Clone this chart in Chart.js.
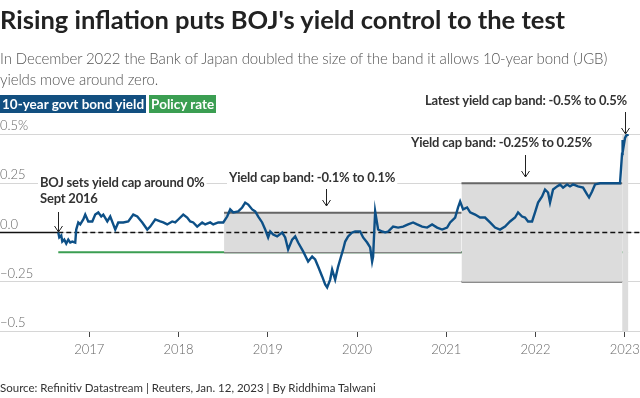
<!DOCTYPE html>
<html>
<head>
<meta charset="utf-8">
<script src="https://cdn.jsdelivr.net/npm/chart.js@4/dist/chart.umd.min.js"></script>
<style>
  html, body { margin:0; padding:0; background:#fff; }
  body { width:640px; height:398px; position:relative; overflow:hidden; font-family: Lato, "Open Sans", sans-serif; }
  #title { position:absolute; left:0; top:4px; font-weight:700; font-size:25.5px; line-height:30px; color:#222; white-space:nowrap; }
  #sub { position:absolute; left:0; top:48px; font-weight:300; font-size:15px; letter-spacing:-0.1px; line-height:21px; color:#555; width:612px; }
  #legend { position:absolute; left:0; top:95px; height:18px; display:flex; gap:3px; }
  #legend span { display:inline-block; height:18px; line-height:18px; font-weight:700; font-size:13.5px; color:#fff; padding:0 2px; }
  #source { position:absolute; left:0; top:380px; font-size:11.5px; line-height:16px; color:#333; white-space:nowrap; }
  #wrap { position:absolute; left:0; top:0; width:640px; height:398px; }
</style>
</head>
<body>
<div id="wrap"><canvas id="c" width="640" height="398"></canvas></div>
<div id="title">Rising inflation puts BOJ's yield control to the test</div>
<div id="sub">In December 2022 the Bank of Japan doubled the size of the band it allows 10-year bond (JGB) yields move around zero.</div>
<div id="legend"><span style="background:#124f80">10-year govt bond yield</span><span style="background:#3b9e52">Policy rate</span></div>
<div id="source">Source: Refinitiv Datastream | Reuters, Jan. 12, 2023 | By Riddhima Talwani</div>
<script>
// ---- data (x in decimal years, y in %) ----
const yieldDates = [2016.653,2016.664,2016.686,2016.698,2016.720,2016.742,2016.765,2016.787,2016.810,2016.843,2016.854,2016.877,2016.899,2016.933,2016.955,2016.989,2017.034,2017.067,2017.101,2017.134,2017.157,2017.202,2017.235,2017.269,2017.291,2017.325,2017.381,2017.437,2017.493,2017.538,2017.594,2017.650,2017.683,2017.739,2017.795,2017.829,2017.873,2017.929,2017.963,2017.997,2018.053,2018.097,2018.131,2018.165,2018.209,2018.265,2018.299,2018.355,2018.389,2018.445,2018.501,2018.545,2018.579,2018.613,2018.669,2018.713,2018.747,2018.781,2018.825,2018.859,2018.893,2018.937,2018.971,2019.004,2019.027,2019.060,2019.105,2019.161,2019.195,2019.228,2019.273,2019.307,2019.340,2019.396,2019.452,2019.497,2019.531,2019.564,2019.609,2019.643,2019.665,2019.699,2019.721,2019.755,2019.788,2019.811,2019.844,2019.867,2019.900,2019.945,2019.979,2020.035,2020.068,2020.113,2020.147,2020.169,2020.180,2020.203,2020.236,2020.281,2020.315,2020.348,2020.404,2020.460,2020.516,2020.572,2020.628,2020.673,2020.729,2020.785,2020.841,2020.897,2020.953,2021.009,2021.043,2021.099,2021.132,2021.155,2021.188,2021.233,2021.267,2021.323,2021.378,2021.434,2021.490,2021.546,2021.602,2021.658,2021.714,2021.770,2021.804,2021.849,2021.882,2021.916,2021.961,2021.994,2022.028,2022.073,2022.106,2022.140,2022.162,2022.196,2022.241,2022.274,2022.308,2022.353,2022.386,2022.420,2022.476,2022.532,2022.577,2022.599,2022.633,2022.666,2022.722,2022.778,2022.834,2022.890,2022.946,2022.969,2022.975,2022.980,2023.002,2023.025,2023.036];
const yieldValues = [0.000,-0.025,-0.015,-0.046,-0.036,-0.056,-0.036,-0.051,-0.046,-0.051,0.015,0.051,0.041,0.066,0.091,0.056,0.056,0.091,0.102,0.081,0.091,0.056,0.081,0.041,0.015,0.051,0.051,0.056,0.091,0.081,0.051,0.015,0.030,0.066,0.056,0.051,0.041,0.056,0.051,0.066,0.091,0.076,0.056,0.051,0.030,0.051,0.041,0.051,0.041,0.051,0.051,0.081,0.117,0.102,0.107,0.127,0.152,0.142,0.117,0.107,0.081,0.051,0.015,-0.025,0.005,-0.010,-0.020,0.000,-0.025,-0.086,-0.036,-0.020,-0.051,-0.096,-0.147,-0.122,-0.137,-0.173,-0.223,-0.264,-0.279,-0.239,-0.188,-0.239,-0.173,-0.137,-0.086,-0.046,-0.020,0.000,0.005,0.005,-0.025,-0.051,-0.076,-0.147,-0.122,0.107,0.015,0.005,0.000,0.005,0.030,0.025,0.030,0.041,0.051,0.041,0.030,0.025,0.041,0.025,0.015,0.025,0.051,0.076,0.127,0.157,0.117,0.127,0.102,0.091,0.076,0.076,0.051,0.025,0.015,0.030,0.056,0.076,0.102,0.081,0.076,0.056,0.056,0.102,0.152,0.183,0.218,0.203,0.152,0.218,0.234,0.244,0.228,0.244,0.234,0.244,0.234,0.228,0.193,0.178,0.208,0.244,0.250,0.250,0.250,0.250,0.250,0.400,0.470,0.420,0.480,0.500,0.490];

const policyDates = [2016.653, 2023.036];
const policyValues = [-0.1, -0.1];

// yield-cap bands: [start, end, lower, upper]
const bandStarts = [2018.51, 2021.17, 2022.97];
const bandEnds   = [2021.17, 2022.97, 2023.04];
const bandLower  = [-0.1, -0.25, -0.5];
const bandUpper  = [0.1, 0.25, 0.5];

const targetStart = 2016.653;  // yield target of 0% from Sept 2016
const xMin = 2016.0, xMax = 2023.17;
const yMin = -0.5, yMax = 0.5;
const yearTicks = [2017, 2018, 2019, 2020, 2021, 2022, 2023];
const yTickValues = [-0.5, -0.25, 0, 0.25, 0.5];
const yTickLabels = ['\u22120.5', '\u22120.25', '0.0', '0.25', '0.5%'];

// annotations: text lines, anchor year for arrow
const notes = [
  { lines: ['BOJ sets yield cap around 0%', 'Sept 2016'], textX: 40, textY: [183, 199], arrowYear: 2016.653, arrowTop: 212, arrowBottom: 232 },
  { lines: ['Yield cap band: -0.1% to 0.1%'], textX: 229, textY: [178], arrowYear: 2019.65, arrowTop: 189, arrowBottom: 206 },
  { lines: ['Yield cap band: -0.25% to 0.25%'], textX: 411, textY: [143], arrowYear: 2021.88, arrowTop: 155, arrowBottom: 177 },
  { lines: ['Latest yield cap band: -0.5% to 0.5%'], textX: 425, textY: [101], arrowYear: 2023.0, arrowTop: 112, arrowBottom: 134 }
];

// ---- build datasets ----
const pts = (xs, ys) => xs.map((x, i) => ({ x: x, y: ys[i] }));
const datasets = [];
datasets.push({ label: 'yield', data: pts(yieldDates, yieldValues), borderColor: '#0d5087', borderWidth: 2.4, pointRadius: 0, tension: 0, order: 0, fill: false });
datasets.push({ label: 'target0', data: [{x: targetStart, y: 0}, {x: xMax, y: 0}], borderColor: '#111', borderWidth: 1.5, borderDash: [5, 3], pointRadius: 0, order: 1, fill: false });
datasets.push({ label: 'zeroSolid', data: [{x: xMin, y: 0}, {x: targetStart, y: 0}], borderColor: '#111', borderWidth: 1.5, pointRadius: 0, order: 1, fill: false });
for (let i = 0; i < bandStarts.length; i++) {
  const isLast = i === bandStarts.length - 1;
  datasets.push({ label: 'bandUpper' + i, data: [{x: bandStarts[i], y: bandUpper[i]}, {x: bandEnds[i], y: bandUpper[i]}],
    borderColor: isLast ? 'rgba(0,0,0,0)' : '#666', borderWidth: 2, pointRadius: 0, order: 2, fill: '+1', backgroundColor: '#dcdcdc' });
  datasets.push({ label: 'bandLower' + i, data: [{x: bandStarts[i], y: bandLower[i]}, {x: bandEnds[i], y: bandLower[i]}],
    borderColor: isLast ? 'rgba(0,0,0,0)' : '#666', borderWidth: 2, pointRadius: 0, order: 2, fill: false });
}
datasets.push({ label: 'policy', data: pts(policyDates, policyValues), borderColor: '#3b9e52', borderWidth: 2, pointRadius: 0, order: 3, fill: false });

const notesPlugin = {
  id: 'notes',
  afterDraw(chart) {
    const ctx = chart.ctx;
    const xs = chart.scales.x;
    ctx.save();
    ctx.font = '700 13px Lato, sans-serif';
    try { ctx.letterSpacing = '-0.2px'; } catch (e) {}
    ctx.textBaseline = 'middle';
    ctx.textAlign = 'left';
    notes.forEach(n => {
      n.lines.forEach((t, k) => {
        const w = ctx.measureText(t).width;
        ctx.fillStyle = '#fff';
        ctx.fillRect(n.textX - 2, n.textY[k] - 8, w + 4, 16);
        ctx.fillStyle = '#333';
        ctx.fillText(t, n.textX, n.textY[k]);
      });
      const ax = Math.round(xs.getPixelForValue(n.arrowYear)) + 0.5;
      ctx.strokeStyle = '#222';
      ctx.lineWidth = 1;
      ctx.beginPath();
      ctx.moveTo(ax, n.arrowTop);
      ctx.lineTo(ax, n.arrowBottom);
      ctx.moveTo(ax - 4, n.arrowBottom - 6);
      ctx.lineTo(ax, n.arrowBottom);
      ctx.lineTo(ax + 4, n.arrowBottom - 6);
      ctx.stroke();
    });
    ctx.restore();
  }
};

new Chart(document.getElementById('c'), {
  type: 'line',
  data: { datasets: datasets },
  options: {
    responsive: false,
    animation: false,
    devicePixelRatio: 1,
    layout: { padding: { top: 134, left: 0, right: 0, bottom: 0 } },
    plugins: { legend: { display: false }, tooltip: { enabled: false } },
    scales: {
      x: {
        type: 'linear', min: xMin, max: xMax,
        afterBuildTicks: (s) => { s.ticks = yearTicks.map(v => ({ value: v })); },
        afterFit: (s) => { s.height = 67; s.paddingLeft = 0; s.paddingRight = 0; },
        ticks: { callback: (v) => String(v), color: '#666', font: { family: 'Lato', size: 13, weight: '300' }, padding: 5, maxRotation: 0, autoSkip: false },
        grid: { drawOnChartArea: false, drawTicks: true, tickLength: 6, color: '#444', lineWidth: 1 },
        border: { display: false }
      },
      y: {
        type: 'linear', min: yMin, max: yMax,
        afterBuildTicks: (s) => { s.ticks = yTickValues.map(v => ({ value: v })); },
        afterFit: (s) => { s.width = 0; },
        ticks: { mirror: true, padding: 0, labelOffset: -8, color: '#666', font: { family: 'Lato', size: 13, weight: '300' },
          callback: (v, i) => yTickLabels[i] },
        grid: { color: '#d6d6d6', lineWidth: 1, drawTicks: false },
        border: { display: false }
      }
    }
  },
  plugins: [notesPlugin]
});
</script>
</body>
</html>
